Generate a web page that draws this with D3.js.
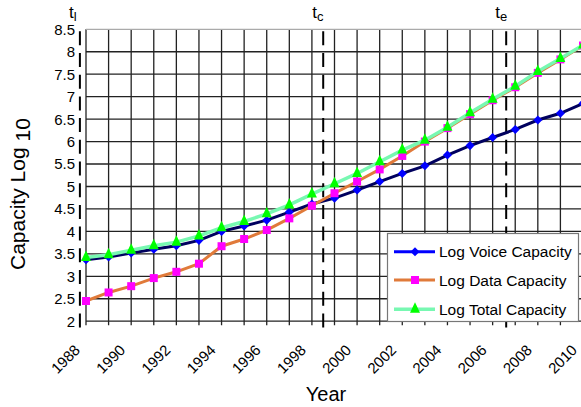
<!DOCTYPE html>
<html>
<head>
<meta charset="utf-8">
<script src="https://cdnjs.cloudflare.com/ajax/libs/d3/7.8.5/d3.min.js"></script>
<style>
  body { margin: 0; background: #fff; }
  text { font-family: "Liberation Sans", Arial, sans-serif; fill: #000; }
</style>
</head>
<body>
<div id="chart"></div>
<script>
'use strict';

// data
var years = [1988, 1989, 1990, 1991, 1992, 1993, 1994, 1995, 1996, 1997, 1998, 1999,
             2000, 2001, 2002, 2003, 2004, 2005, 2006, 2007, 2008, 2009, 2010];
var voiceCap = [3.37, 3.43, 3.52, 3.60, 3.68, 3.80, 4.00, 4.12, 4.25, 4.43, 4.61, 4.74,
                4.92, 5.11, 5.29, 5.46, 5.70, 5.91, 6.09, 6.27, 6.48, 6.63, 6.85];
var dataCap = [2.45, 2.64, 2.78, 2.96, 3.10, 3.28, 3.67, 3.83, 4.03, 4.29, 4.57, 4.85,
               5.11, 5.38, 5.68, 6.00, 6.30, 6.61, 6.92, 7.21, 7.53, 7.83, 8.14];
var totalCap = [3.42, 3.48, 3.58, 3.68, 3.76, 3.90, 4.08, 4.22, 4.39, 4.59, 4.83, 5.06,
                5.29, 5.55, 5.81, 6.03, 6.32, 6.64, 6.94, 7.23, 7.56, 7.85, 8.15];
var yTicks = [2, 2.5, 3, 3.5, 4, 4.5, 5, 5.5, 6, 6.5, 7, 7.5, 8, 8.5];
var xTicks = [1988, 1990, 1992, 1994, 1996, 1998, 2000, 2002, 2004, 2006, 2008, 2010];
var markerYears = [1987.73, 1998.5, 2006.6];
var markerNames = ["l", "c", "e"];
var seriesNames = ["Log Voice Capacity", "Log Data Capacity", "Log Total Capacity"];

var width = 581, height = 407;
var plotLeft = 86, plotRight = 583, plotTop = 29.3, plotBottom = 321.2;

var svg = d3.select("#chart").append("svg")
    .attr("width", width)
    .attr("height", height);

svg.append("rect").attr("width", width).attr("height", height).attr("fill", "#fff");

var x = d3.scaleLinear().domain([1988, 2010]).range([plotLeft, plotRight]);
var y = d3.scaleLinear().domain([2, 8.5]).range([plotBottom, plotTop]);

// grid
svg.append("g").selectAll("line")
    .data(years)
    .enter().append("line")
    .attr("x1", function(d) { return x(d); })
    .attr("x2", function(d) { return x(d); })
    .attr("y1", plotTop)
    .attr("y2", plotBottom + 4)
    .attr("stroke", "#222")
    .attr("stroke-width", 1.3);

svg.append("g").selectAll("line")
    .data(yTicks)
    .enter().append("line")
    .attr("x1", plotLeft)
    .attr("x2", plotRight)
    .attr("y1", function(d) { return y(d); })
    .attr("y2", function(d) { return y(d); })
    .attr("stroke", function(d) { return d === 8.5 ? "#aaa" : "#222"; })
    .attr("stroke-width", 1.3);

// y tick labels
svg.append("g").selectAll("text")
    .data(yTicks)
    .enter().append("text")
    .attr("x", 75)
    .attr("y", function(d) { return y(d); })
    .attr("dy", "0.36em")
    .attr("text-anchor", "end")
    .style("font-size", "15px")
    .text(function(d) { return d; });

// x tick labels, rotated
svg.append("g").selectAll("text")
    .data(xTicks)
    .enter().append("text")
    .attr("transform", function(d) { return "translate(" + (x(d) - 5) + ",351) rotate(-45)"; })
    .attr("text-anchor", "end")
    .style("font-size", "15px")
    .text(function(d) { return d; });

// axis titles
svg.append("text")
    .attr("x", 326)
    .attr("y", 401)
    .attr("text-anchor", "middle")
    .style("font-size", "20px")
    .text("Year");

var yTitle = svg.append("text")
    .attr("transform", "translate(25,270) rotate(-90)")
    .style("font-size", "21px");
yTitle.append("tspan").text("Capacity Log");
yTitle.append("tspan").attr("dx", 6).attr("dy", 5).text("10");

// dashed time markers
svg.append("g").selectAll("line")
    .data(markerYears)
    .enter().append("line")
    .attr("x1", function(d) { return x(d); })
    .attr("x2", function(d) { return x(d); })
    .attr("y1", plotTop + 2)
    .attr("y2", 329)
    .attr("stroke", "#000")
    .attr("stroke-width", 2)
    .attr("stroke-dasharray", "14,7.7");

var tLabels = svg.append("g").selectAll("text")
    .data(markerYears)
    .enter().append("text")
    .attr("x", function(d) { return x(d) - 11; })
    .attr("y", 18)
    .style("font-size", "17px");
tLabels.append("tspan").text("t");
tLabels.append("tspan")
    .attr("dy", 3)
    .style("font-size", "13px")
    .text(function(d, i) { return markerNames[i]; });

// marker shapes
var triangle = {
    draw: function(context, size) {
        var w = Math.sqrt(size), h = w * 1.05;
        context.moveTo(0, -h * 2 / 3);
        context.lineTo(w / 2, h / 3);
        context.lineTo(-w / 2, h / 3);
        context.closePath();
    }
};

var series = [
    {name: seriesNames[0], values: voiceCap, line: "#00005e", legendLine: "#0000ff", fill: "#0000ff",
     symbol: d3.symbol().type(d3.symbolSquare).size(41), rotate: 45, width: 3},
    {name: seriesNames[1], values: dataCap, line: "#e07a3a", legendLine: "#e07a3a", fill: "#ff00ff",
     symbol: d3.symbol().type(d3.symbolSquare).size(64), rotate: 0, width: 3},
    {name: seriesNames[2], values: totalCap, line: "#78f8b2", legendLine: "#78f8b2", fill: "#00ff00",
     symbol: d3.symbol().type(triangle).size(100), rotate: 0, width: 3.5}
];

var line = d3.line()
    .x(function(d, i) { return x(years[i]); })
    .y(function(d) { return y(d); });

series.forEach(function(s) {
    svg.append("path")
        .datum(s.values)
        .attr("d", line)
        .attr("fill", "none")
        .attr("stroke", s.line)
        .attr("stroke-width", s.width);

    svg.append("g").selectAll("path")
        .data(s.values)
        .enter().append("path")
        .attr("d", s.symbol)
        .attr("transform", function(d, i) {
            return "translate(" + x(years[i]) + "," + y(d) + ") rotate(" + s.rotate + ")";
        })
        .attr("fill", s.fill);
});

// legend
var legend = svg.append("g");
legend.append("rect")
    .attr("x", 387.5)
    .attr("y", 233.5)
    .attr("width", 191)
    .attr("height", 88)
    .attr("fill", "#fff")
    .attr("stroke", "#777")
    .attr("stroke-width", 1.2);

var rowY = [251.7, 280, 309.3];
series.forEach(function(s, i) {
    legend.append("line")
        .attr("x1", 394).attr("x2", 435)
        .attr("y1", rowY[i]).attr("y2", rowY[i])
        .attr("stroke", s.legendLine)
        .attr("stroke-width", s.width);
    legend.append("path")
        .attr("d", s.symbol)
        .attr("transform", "translate(415," + rowY[i] + ") rotate(" + s.rotate + ")")
        .attr("fill", s.fill);
    legend.append("text")
        .attr("x", 439)
        .attr("y", rowY[i])
        .attr("dy", "0.36em")
        .style("font-size", "15.5px")
        .text(s.name);
});
</script>
</body>
</html>
